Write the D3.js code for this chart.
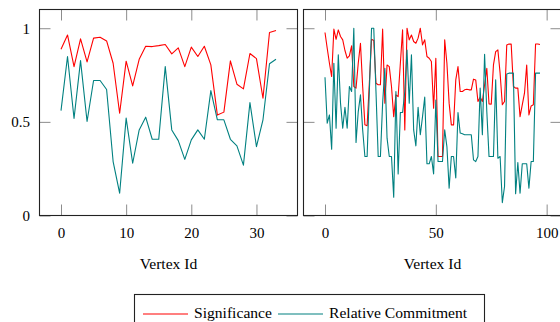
<!DOCTYPE html>
<html><head><meta charset="utf-8">
<script src="https://cdn.jsdelivr.net/npm/d3@7"></script>
<style>
html,body{margin:0;padding:0;background:#fff;}
svg{display:block;font-family:"Liberation Serif","Times New Roman",serif;}
</style></head>
<body><svg id="c" width="560" height="322"></svg>
<script>
// ---- data ----
const leftSignificance = [0.888,0.964,0.795,0.943,0.82,0.947,0.952,0.932,0.813,0.546,0.824,0.692,0.834,0.904,0.902,0.907,0.913,0.863,0.895,0.795,0.899,0.849,0.904,0.804,0.536,0.552,0.826,0.701,0.676,0.865,0.838,0.626,0.977,0.988];
const leftCommitment = [0.56,0.849,0.518,0.827,0.502,0.721,0.721,0.673,0.288,0.119,0.52,0.279,0.457,0.525,0.407,0.407,0.795,0.457,0.4,0.3,0.404,0.457,0.407,0.667,0.511,0.511,0.407,0.372,0.269,0.603,0.368,0.511,0.81,0.834];
const rightSignificance = [0.977,0.893,0.813,0.742,0.995,0.941,0.991,0.956,0.938,0.881,0.84,0.852,0.906,0.689,0.68,0.813,0.92,0.689,0.484,0.479,0.706,0.941,0.934,0.706,0.698,0.698,0.995,0.6,0.804,0.795,0.689,0.528,0.644,0.635,0.813,0.991,0.457,1.0,0.938,0.964,0.929,0.92,0.947,1.0,0.911,0.938,0.849,0.84,0.822,0.573,0.84,0.315,0.315,0.315,0.938,0.813,0.6,0.484,0.484,0.724,0.795,0.662,0.662,0.671,0.674,0.671,0.671,0.728,0.724,0.609,0.632,0.609,0.698,0.786,0.596,0.594,0.804,0.875,0.884,0.76,0.591,0.609,0.911,0.916,0.915,0.689,0.68,0.68,0.528,0.591,0.653,0.804,0.537,0.585,0.591,0.916,0.916,0.913];
const rightCommitment = [0.738,0.493,0.537,0.354,0.813,0.466,0.858,0.6,0.466,0.578,0.466,0.689,0.662,1.0,0.39,0.555,0.644,0.457,0.315,0.315,0.662,1.0,1.0,0.662,0.315,0.315,0.6,0.786,0.413,0.315,0.315,0.098,0.662,0.222,0.55,0.55,0.662,0.884,0.6,0.858,0.457,0.372,0.578,0.431,0.528,0.632,0.276,0.276,0.315,0.222,0.617,0.288,0.288,0.288,0.457,0.368,0.146,0.315,0.315,0.2,0.55,0.44,0.436,0.431,0.431,0.431,0.431,0.297,0.288,0.315,0.68,0.431,0.861,0.555,0.315,0.315,0.315,0.724,0.306,0.315,0.069,0.155,0.756,0.76,0.76,0.76,0.116,0.283,0.119,0.276,0.276,0.276,0.146,0.288,0.288,0.76,0.76,0.76];
const leftXTicks = [0,10,20,30];
const rightXTicks = [0,50,100];
const yTicks = [0,0.5,1];
const yTickLabels = ["0","0.5","1"];
const seriesNames = ["Significance","Relative Commitment"];
const seriesColors = ["#ff0000","#008080"];
const xLabel = "Vertex Id";

// ---- layout ----
const svg = d3.select("#c");
const plotTop = 9.5, plotBottom = 215.5, panelW = 258;
const panels = [
  {x0: 39.5, sig: leftSignificance, com: leftCommitment, ticks: leftXTicks, yLabels: true},
  {x0: 303.5, sig: rightSignificance, com: rightCommitment, ticks: rightXTicks, yLabels: false}
];
const yScale = d3.scaleLinear().domain([0, 1.1]).range([plotBottom, plotTop]);
const tickFont = 15;
const labelFont = 15.6;
const tickColor = "#8c8c8c";
const tickLen = 11;

panels.forEach(p => {
  const n = p.sig.length - 1;
  const pad = n * 0.1;
  const x = d3.scaleLinear().domain([-pad, n + pad]).range([p.x0, p.x0 + panelW]);
  const g = svg.append("g");

  const styleAxis = sel => {
    sel.select(".domain").remove();
    sel.selectAll(".tick line").attr("stroke", tickColor).attr("stroke-width", 1);
    sel.selectAll(".tick text").attr("fill", "#000").attr("font-size", tickFont)
       .attr("font-family", '"Liberation Serif","Times New Roman",serif');
  };

  g.append("g").attr("transform", `translate(0,${plotBottom})`)
    .call(d3.axisBottom(x).tickValues(p.ticks).tickSize(-tickLen).tickPadding(12).tickFormat(d3.format("d")))
    .call(styleAxis);
  g.append("g").attr("transform", `translate(0,${plotTop})`)
    .call(d3.axisTop(x).tickValues(p.ticks).tickSize(-tickLen).tickFormat(""))
    .call(styleAxis);
  g.append("g").attr("transform", `translate(${p.x0},0)`)
    .call(d3.axisLeft(yScale).tickValues(yTicks).tickSize(-tickLen).tickPadding(9.5)
      .tickFormat((d, i) => p.yLabels ? yTickLabels[i] : ""))
    .call(styleAxis);
  g.append("g").attr("transform", `translate(${p.x0 + panelW},0)`)
    .call(d3.axisRight(yScale).tickValues(yTicks).tickSize(-tickLen).tickFormat(""))
    .call(styleAxis);

  const line = d3.line().x((d, i) => x(i)).y(d => yScale(d));
  [p.sig, p.com].forEach((data, k) => {
    g.append("path").datum(data).attr("d", line)
      .attr("fill", "none").attr("stroke", seriesColors[k]).attr("stroke-width", 1.1)
      .attr("stroke-linejoin", "round");
  });

  g.append("rect").attr("x", p.x0).attr("y", plotTop).attr("width", panelW).attr("height", plotBottom - plotTop)
    .attr("fill", "none").attr("stroke", "#222").attr("stroke-width", 1.1);

  g.append("text").attr("x", p.x0 + panelW / 2).attr("y", 268.5).attr("text-anchor", "middle")
    .attr("font-size", labelFont).attr("fill", "#000").text(xLabel);
});

// ---- legend ----
const lg = svg.append("g");
lg.append("rect").attr("x", 134.5).attr("y", 294.5).attr("width", 350).attr("height", 40)
  .attr("fill", "#fff").attr("stroke", "#222").attr("stroke-width", 1.1);
const legendItems = [{x1: 143, x2: 188, tx: 194}, {x1: 278, x2: 323, tx: 329}];
legendItems.forEach((it, k) => {
  lg.append("line").attr("x1", it.x1).attr("x2", it.x2).attr("y1", 314).attr("y2", 314)
    .attr("stroke", seriesColors[k]).attr("stroke-width", 1.1);
  lg.append("text").attr("x", it.tx).attr("y", 317.5).attr("font-size", labelFont)
    .attr("fill", "#000").text(seriesNames[k]);
});
</script></body></html>
